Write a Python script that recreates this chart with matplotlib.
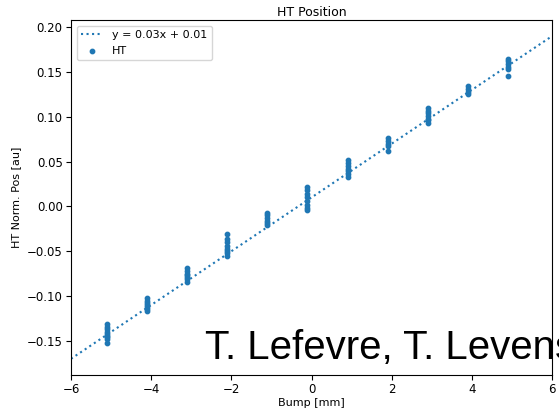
import numpy as np
import matplotlib.pyplot as plt

# bump positions (mm) and measured normalised positions
bump = [-5.1, -4.1, -3.1, -2.1, -1.1, -0.1, 0.9, 1.9, 2.9, 3.9, 4.9]
ht_pos = [
    [-0.131, -0.134, -0.137, -0.140, -0.142, -0.144, -0.146, -0.148, -0.152],
    [-0.102, -0.105, -0.108, -0.110, -0.112, -0.114, -0.117],
    [-0.069, -0.072, -0.075, -0.077, -0.079, -0.081, -0.084],
    [-0.031, -0.036, -0.040, -0.044, -0.047, -0.050, -0.052, -0.055],
    [-0.007, -0.010, -0.013, -0.016, -0.018, -0.021],
    [0.022, 0.018, 0.014, 0.010, 0.006, 0.002, -0.002, -0.004],
    [0.052, 0.048, 0.045, 0.042, 0.039, 0.036, 0.033],
    [0.076, 0.073, 0.070, 0.067, 0.062],
    [0.110, 0.107, 0.104, 0.101, 0.098, 0.096, 0.093],
    [0.134, 0.131, 0.128, 0.125],
    [0.165, 0.162, 0.159, 0.156, 0.153, 0.146],
]
slope, intercept = 0.03, 0.01

xs = np.concatenate([[b] * len(v) for b, v in zip(bump, ht_pos)])
ys = np.concatenate(ht_pos)

fig = plt.figure(figsize=(5.59, 4.08), dpi=100)
ax = fig.add_axes([0.127, 0.081, 0.8605, 0.87])

xl = np.linspace(-6, 6, 100)
ax.plot(xl, slope * xl + intercept, ':', color='C0', lw=1.5,
        label=f'y = {slope}x + {intercept}')
ax.scatter(xs, ys, s=10, color='C0', label='HT', zorder=3)

ax.set_xlim(-6, 6)
ax.set_title('HT Position', fontsize=9, pad=3)
ax.set_xlabel('Bump [mm]', fontsize=8, labelpad=1)
ax.set_ylabel('HT Norm. Pos [au]', fontsize=8)
ax.tick_params(labelsize=8.5, pad=2.5)
ax.legend(loc='upper left', fontsize=8)

fig.text(0.367, 0.12, 'T. Lefevre, T. Levens', fontsize=29,
         family='Liberation Sans', color='black')

fig.savefig('out.png', dpi=100)
